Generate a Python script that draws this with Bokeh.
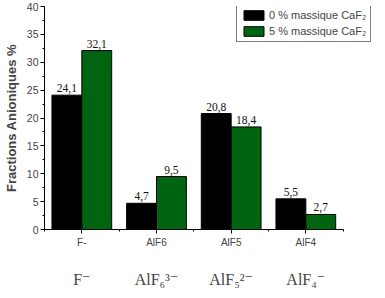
from bokeh.plotting import figure
from bokeh.models import (ColumnDataSource, Range1d, SingleIntervalTicker, FixedTicker,
                          LinearAxis, Legend, LegendItem)
from bokeh.embed import file_html
from bokeh.resources import INLINE

categories = ["F-", "AlF6", "AlF5", "AlF4"]
ion_labels = ["F\u207b", "AlF\u2086\u00b3\u207b", "AlF\u2085\u00b2\u207b", "AlF\u2084\u207b"]
values_0 = [24.1, 4.7, 20.8, 5.5]
values_5 = [32.1, 9.5, 18.4, 2.7]
series_names = ["0 % massique CaF\u2082", "5 % massique CaF\u2082"]

def fmt(v):
    return f"{v:.1f}".replace(".", ",")

n = len(categories)
centers = [i + 0.5 for i in range(n)]
BW = 0.4
src = ColumnDataSource(dict(
    cat=categories, xc=centers,
    x0=[c - BW / 2 for c in centers], x5=[c + BW / 2 for c in centers],
    v0=values_0, v5=values_5,
    l0=[fmt(v) for v in values_0], l5=[fmt(v) for v in values_5]))

SANS = "Liberation Sans"
p = figure(width=377, height=290, x_range=Range1d(0, 4.46), y_range=Range1d(0, 40),
           output_backend="svg", toolbar_location=None, x_axis_type=None,
           min_border_left=41, min_border_right=0, min_border_top=6, min_border_bottom=61)
p.outline_line_color = None
p.grid.grid_line_color = None

r0 = p.vbar(x="x0", top="v0", width=BW, source=src,
            fill_color="black", line_color="black", line_width=1)
r5 = p.vbar(x="x5", top="v5", width=BW, source=src,
            fill_color="#006411", line_color="black", line_width=1)

for key in ("0", "5"):
    p.text(x="x" + key, y="v" + key, text="l" + key, source=src,
           text_align="center", text_baseline="bottom", y_offset=-3,
           text_font_size="11.5px", text_font=SANS, text_color="#111111")

yax = p.yaxis[0]
yax.ticker = SingleIntervalTicker(interval=5, num_minor_ticks=2)
yax.axis_label = "Fractions Anioniques %"
yax.axis_label_text_font = SANS
yax.axis_label_text_font_style = "bold"
yax.axis_label_text_font_size = "13px"
yax.axis_label_standoff = 5
yax.major_label_text_font = SANS
yax.major_label_text_font_size = "10.5px"
yax.major_label_standoff = 2
yax.major_tick_in = 0
yax.major_tick_out = 4
yax.minor_tick_in = 0
yax.minor_tick_out = 2

xticker = FixedTicker(ticks=centers, minor_ticks=list(range(n + 1)))
xax = LinearAxis(ticker=xticker, bounds=(0, n),
                 major_label_overrides=dict(zip(centers, categories)),
                 major_label_text_font=SANS, major_label_text_font_size="10px",
                 major_label_standoff=3, major_tick_in=0, major_tick_out=4,
                 minor_tick_in=0, minor_tick_out=2)
p.add_layout(xax, "below")

ax2 = LinearAxis(ticker=FixedTicker(ticks=centers, minor_ticks=[]), axis_line_color=None,
                 major_tick_line_color=None, minor_tick_line_color=None,
                 major_label_overrides=dict(zip(centers, ion_labels)),
                 major_label_text_font="'Liberation Serif', 'DejaVu Serif', serif",
                 major_label_text_font_size="16px", major_label_standoff=14)
p.add_layout(ax2, "below")

legend = Legend(items=[LegendItem(label=series_names[0], renderers=[r0]),
                       LegendItem(label=series_names[1], renderers=[r5])],
                location=(192, 187), border_line_color="black", border_line_width=1,
                label_text_font=SANS, label_text_font_size="11px", glyph_width=25,
                glyph_height=12, label_height=12, spacing=4, padding=4, margin=0,
                label_standoff=3)
p.add_layout(legend, "center")

open("out.html", "w").write(file_html(p, INLINE))
